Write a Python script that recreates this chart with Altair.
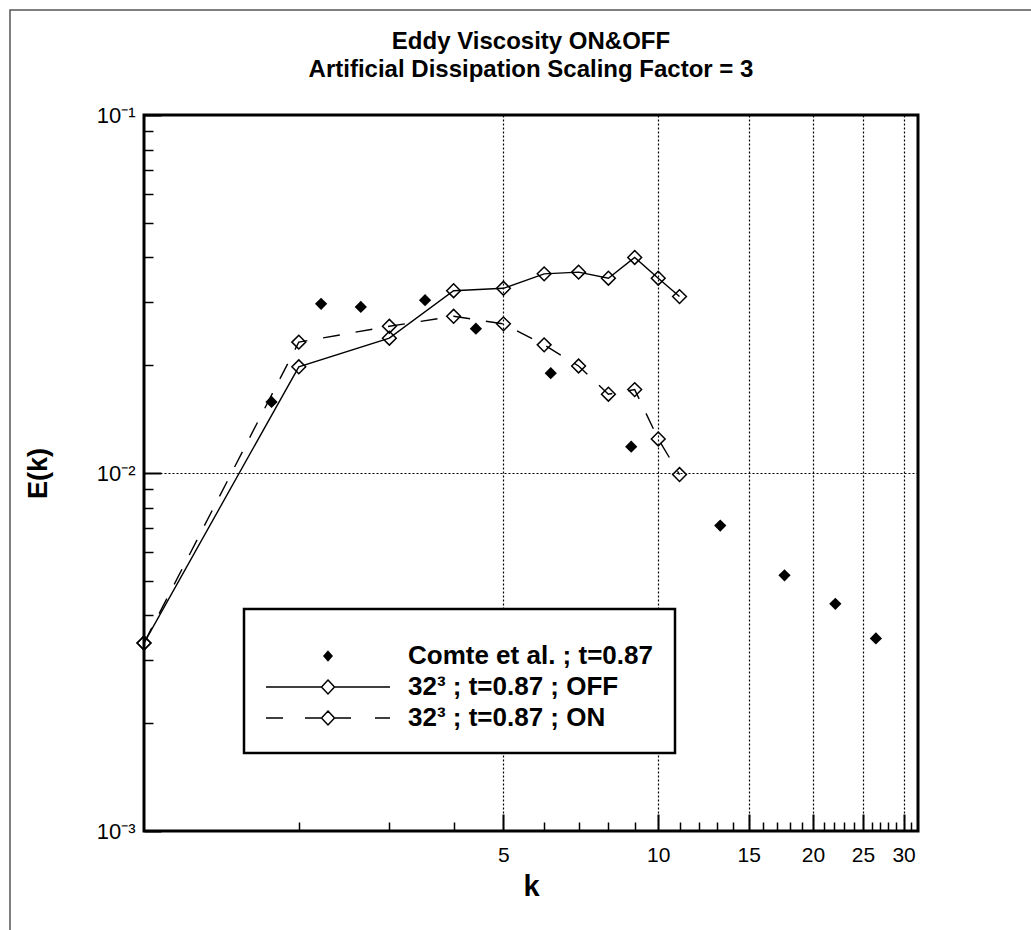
import altair as alt
import pandas as pd

# ---------------- data ----------------
series_names = ["Comte et al. ; t=0.87", "32³ ; t=0.87 ; OFF", "32³ ; t=0.87 ; ON"]

k_comte = [1.77, 2.21, 2.64, 3.52, 4.42, 6.18, 8.86, 13.2, 17.6, 22.1, 26.5]
e_comte = [0.0158, 0.0297, 0.0291, 0.0304, 0.0253, 0.0190, 0.01184, 0.00713, 0.00518, 0.00431, 0.00345]

k_model = [1, 2, 3, 4, 5, 6, 7, 8, 9, 10, 11]
e_off = [0.00335, 0.0198, 0.0238, 0.0323, 0.0328, 0.0360, 0.0364, 0.0350, 0.0400, 0.0350, 0.0311]
e_on = [0.00335, 0.0232, 0.0257, 0.0274, 0.0261, 0.0228, 0.0199, 0.0166, 0.0171, 0.01245, 0.0099]

x_major = [5, 10, 15, 20, 25, 30]
x_minor = [2, 3, 4, 6, 7, 8, 9, 11, 12, 13, 14, 16, 17, 18, 19, 21, 22, 23, 24, 26, 27, 28, 29, 31]
y_major = [0.001, 0.01, 0.1]
y_major_labels = ["10⁻³", "10⁻²", "10⁻¹"]
y_minor = [0.002, 0.003, 0.004, 0.005, 0.006, 0.007, 0.008, 0.009,
           0.02, 0.03, 0.04, 0.05, 0.06, 0.07, 0.08, 0.09]
title_lines = ["Eddy Viscosity ON&OFF", "Artificial Dissipation Scaling Factor = 3"]

# ---------------- tables ----------------
comte_df = pd.DataFrame({"k": k_comte, "E": e_comte, "series": series_names[0]})
off_df = pd.DataFrame({"k": k_model, "E": e_off, "series": series_names[1]})
on_df = pd.DataFrame({"k": k_model, "E": e_on, "series": series_names[2]})
model_df = pd.concat([off_df, on_df], ignore_index=True)
legend_df = pd.DataFrame({"series": series_names})

# ---------------- layout / style ----------------
W, H = 774, 716
FONT = "Liberation Sans"
MAJ, MIN = 17, 9
FRAME_TOP = -105  # outer page frame, relative to the plot's top edge

xscale = alt.Scale(type="log", domain=[1, 32], nice=False)
yscale = alt.Scale(type="log", domain=[0.001, 0.1], nice=False)

y_label_expr = (
    f"datum.value < 0.005 ? '{y_major_labels[0]}' : "
    f"datum.value < 0.05 ? '{y_major_labels[1]}' : '{y_major_labels[2]}'"
)

x_major_axis = alt.Axis(
    values=x_major, format="d", orient="bottom", offset=-MAJ, tickSize=MAJ,
    tickWidth=2, tickColor="black", domain=False, grid=True, gridColor="black",
    gridDash=[2, 2], gridWidth=1.2, gridOpacity=1, labelFont=FONT, labelFontSize=21,
    labelColor="black", labelPadding=13, title="k", titleFont=FONT,
    titleFontSize=29, titleFontWeight="bold", titleColor="black", titlePadding=7,
)
y_major_axis = alt.Axis(
    values=y_major, labelExpr=y_label_expr, orient="left", offset=-MAJ, tickSize=MAJ,
    tickWidth=2, tickColor="black", domain=False, grid=True, gridColor="black",
    gridDash=[2, 2], gridWidth=1.2, gridOpacity=1, labelFont=FONT, labelFontSize=22,
    labelColor="black", labelPadding=9, title="E(k)", titleFont=FONT,
    titleFontSize=27, titleFontWeight="bold", titleColor="black", titlePadding=44,
)
x_minor_axis = alt.Axis(
    values=x_minor, orient="bottom", offset=-MIN, tickSize=MIN, tickWidth=1.5,
    tickColor="black", labels=False, domain=False, grid=False, title=None,
)
y_minor_axis = alt.Axis(
    values=y_minor, orient="left", offset=-MIN, tickSize=MIN, tickWidth=1.5,
    tickColor="black", labels=False, domain=False, grid=False, title=None,
)

# legend symbols (pixel paths, symbol size 4 -> scale 1)
legend_paths = [
    "M49,-4.5L53,0L49,4.5L45,0Z",
    "M-13,0L42.5,0M55.5,0L111,0M49,-7L55.5,0L49,7L42.5,0Z",
    "M-13,0L4,0M26,0L42.5,0M55.5,0L72,0M96,0L111,0M49,-7L55.5,0L49,7L42.5,0Z",
]
legend_def = alt.Legend(
    orient="none", legendX=100, legendY=494, title=" ", titleFontSize=7,
    titlePadding=5, padding=22, strokeColor="black", fillColor="white",
    labelFont=FONT, labelFontSize=26, labelFontWeight="bold", labelColor="black",
    labelOffset=116, labelLimit=500, symbolOffset=0, rowPadding=5,
    symbolOpacity=1, symbolStrokeColor="black", symbolStrokeWidth=1.5, symbolSize=4,
)

# ---------------- layers ----------------
frame = alt.Chart(legend_df).mark_rect(
    fill="transparent", stroke="#555555", strokeWidth=1.5
).encode(
    x=alt.value(-134), x2=alt.value(W + 300), y=alt.value(FRAME_TOP), y2=alt.value(H + 300)
).transform_filter(alt.datum.series == series_names[0])

off_line = alt.Chart(off_df).mark_line(color="black", strokeWidth=1.4).encode(
    x=alt.X("k:Q", scale=xscale, axis=x_major_axis),
    y=alt.Y("E:Q", scale=yscale, axis=y_major_axis),
)
on_line = alt.Chart(on_df).mark_line(color="black", strokeWidth=1.4, strokeDash=[17, 16]).encode(
    x=alt.X("k:Q", scale=xscale, axis=None),
    y=alt.Y("E:Q", scale=yscale, axis=None),
)
comte_pts = alt.Chart(comte_df).mark_point(
    shape="diamond", filled=True, color="black", size=150, opacity=1
).encode(
    x=alt.X("k:Q", scale=xscale, axis=x_minor_axis),
    y=alt.Y("E:Q", scale=yscale, axis=y_minor_axis),
)
model_pts = alt.Chart(model_df).mark_point(
    shape="diamond", filled=False, color="black", size=190, strokeWidth=1.5, opacity=1
).encode(
    x=alt.X("k:Q", scale=xscale, axis=None),
    y=alt.Y("E:Q", scale=yscale, axis=None),
)
legend_layer = alt.Chart(legend_df).mark_point(
    filled=True, opacity=0, strokeWidth=1.5, size=4
).encode(
    shape=alt.Shape("series:N", scale=alt.Scale(domain=series_names, range=legend_paths), legend=legend_def),
    fill=alt.Fill("series:N", scale=alt.Scale(domain=series_names, range=["black", "transparent", "transparent"]), legend=legend_def),
    stroke=alt.Stroke("series:N", scale=alt.Scale(domain=series_names, range=["black", "black", "black"]), legend=legend_def),
)

chart = alt.layer(
    frame, off_line, on_line, comte_pts, model_pts, legend_layer
).resolve_axis(
    x="independent", y="independent"
).properties(
    width=W, height=H,
    title=alt.Title(title_lines, font=FONT, fontSize=24, fontWeight="bold",
                    anchor="middle", frame="group", offset=33, dy=-FRAME_TOP + 1,
                    lineHeight=28, color="black"),
    autosize=alt.AutoSizeParams(type="none"),
    padding={"left": 144, "top": 115, "right": 1031 - 144 - W, "bottom": 930 - 115 - H},
    background="white",
).configure_view(
    stroke="black", strokeWidth=3
).configure_legend(
    strokeWidth=2.5
)

chart.save("out.html", embed_options={"renderer": "svg", "actions": False})
